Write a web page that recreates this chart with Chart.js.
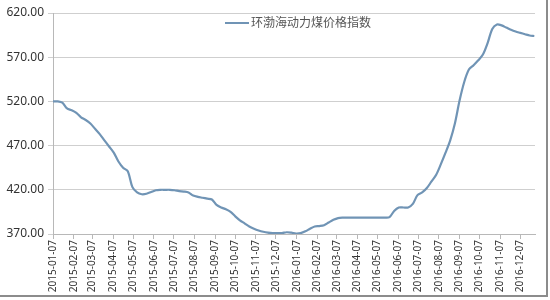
<!DOCTYPE html>
<html>
<head>
<meta charset="utf-8">
<script src="https://cdn.jsdelivr.net/npm/chart.js@4/dist/chart.umd.min.js"></script>
<style>
  html, body { margin: 0; padding: 0; background: #fff; }
  #wrap { position: relative; width: 550px; height: 300px; }
  #frame { position: absolute; left: 0; top: 0; width: 546px; height: 295px;
           border-right: 2px solid #8c8c8c; border-bottom: 2px solid #8c8c8c; pointer-events: none; }
  #legend { position: absolute; left: 225px; top: 13px; font: 12px "Noto Sans CJK SC", "Noto Sans", sans-serif;
            color: #555; white-space: nowrap; }
  #legend span { display: inline-block; width: 24px; height: 2px; background: #7094b5;
                 vertical-align: middle; margin-right: 2px; position: relative; top: -1px; }
</style>
</head>
<body>
<div id="wrap">
  <canvas id="chart" width="550" height="300"></canvas>
  <div id="legend"></div>
  <div id="frame"></div>
</div>
<script>
// 周度日期（每周三）
const weeks = [
  "2015-01-07","2015-01-14","2015-01-21","2015-01-28","2015-02-04","2015-02-11","2015-02-18","2015-02-25",
  "2015-03-04","2015-03-11","2015-03-18","2015-03-25","2015-04-01","2015-04-08","2015-04-15","2015-04-22","2015-04-29",
  "2015-05-06","2015-05-13","2015-05-20","2015-05-27","2015-06-03","2015-06-10","2015-06-17","2015-06-24",
  "2015-07-01","2015-07-08","2015-07-15","2015-07-22","2015-07-29","2015-08-05","2015-08-12","2015-08-19","2015-08-26",
  "2015-09-02","2015-09-09","2015-09-16","2015-09-23","2015-09-30","2015-10-07","2015-10-14","2015-10-21","2015-10-28",
  "2015-11-04","2015-11-11","2015-11-18","2015-11-25","2015-12-02","2015-12-09","2015-12-16","2015-12-23","2015-12-30",
  "2016-01-06","2016-01-13","2016-01-20","2016-01-27","2016-02-03","2016-02-10","2016-02-17","2016-02-24",
  "2016-03-02","2016-03-09","2016-03-16","2016-03-23","2016-03-30","2016-04-06","2016-04-13","2016-04-20","2016-04-27",
  "2016-05-04","2016-05-11","2016-05-18","2016-05-25","2016-06-01","2016-06-08","2016-06-15","2016-06-22","2016-06-29",
  "2016-07-06","2016-07-13","2016-07-20","2016-07-27","2016-08-03","2016-08-10","2016-08-17","2016-08-24","2016-08-31",
  "2016-09-07","2016-09-14","2016-09-21","2016-09-28","2016-10-05","2016-10-12","2016-10-19","2016-10-26",
  "2016-11-02","2016-11-09","2016-11-16","2016-11-23","2016-11-30","2016-12-07","2016-12-14","2016-12-21","2016-12-28"
];

// 环渤海动力煤价格指数（元/吨）
const bspi = [
  520, 520, 518.5, 512, 510, 507, 502, 499,
  495, 489, 483, 476, 469, 462, 452, 445, 441,
  423, 417, 415, 415.5, 417.5, 419.5, 420, 420,
  420, 419.5, 418.5, 418, 417, 413.5, 412, 411, 410,
  409, 403, 400, 398, 395, 390, 385.5, 382, 378.5,
  376, 374, 372.5, 371.5, 371, 371, 371, 372, 371.5,
  370.5, 371, 373, 376, 378.5, 379, 380, 383,
  386, 388, 388.5, 388.5, 388.5, 388.5, 388.5, 388.5, 388.5,
  388.5, 388.5, 388.5, 389, 396, 400, 400, 400, 404,
  414, 417, 422, 429.5, 437, 449, 462, 476, 495,
  521, 542, 556, 561, 566.5, 573, 586, 602,
  607, 606, 603.5, 601, 599, 597.5, 596, 594.5, 594
];

// 横轴刻度（每月7日）
const tickLabels = [
  "2015-01-07","2015-02-07","2015-03-07","2015-04-07","2015-05-07","2015-06-07",
  "2015-07-07","2015-08-07","2015-09-07","2015-10-07","2015-11-07","2015-12-07",
  "2016-01-07","2016-02-07","2016-03-07","2016-04-07","2016-05-07","2016-06-07",
  "2016-07-07","2016-08-07","2016-09-07","2016-10-07","2016-11-07","2016-12-07"
];
const yTicks = [370, 420, 470, 520, 570, 620];

const seriesName = "环渤海动力煤价格指数";

const DAY = 86400000;
const t0 = Date.parse(weeks[0]);
const dayOf = s => Math.round((Date.parse(s) - t0) / DAY);
const tickDays = tickLabels.map(dayOf);

document.getElementById("legend").innerHTML = `<span></span>${seriesName}`;

new Chart(document.getElementById("chart"), {
  type: "line",
  data: {
    datasets: [{
      label: seriesName,
      data: weeks.map((w, i) => ({ x: dayOf(w), y: bspi[i] })),
      borderColor: "#7094b5",
      borderWidth: 2.2,
      pointRadius: 0,
      tension: 0.3,
      fill: false
    }]
  },
  options: {
    responsive: false,
    animation: false,
    layout: { padding: { top: 13, right: 15, left: 0, bottom: 0 } },
    plugins: { legend: { display: false }, tooltip: { enabled: false } },
    scales: {
      x: {
        type: "linear",
        min: 0,
        max: 722,
        afterBuildTicks: s => { s.ticks = tickDays.map(v => ({ value: v })); },
        afterFit: s => { s.height = 66; },
        ticks: {
          autoSkip: false,
          minRotation: 90,
          maxRotation: 90,
          padding: 1,
          color: "#333",
          font: { family: "Noto Sans", size: 10 },
          callback: v => tickLabels[tickDays.indexOf(v)]
        },
        grid: { drawOnChartArea: false, drawTicks: true, tickLength: 5, color: "#b8b8b8" },
        border: { color: "#b8b8b8", width: 1 }
      },
      y: {
        min: 370,
        max: 620,
        afterBuildTicks: s => { s.ticks = yTicks.map(v => ({ value: v })); },
        afterFit: s => { s.width = 53; },
        ticks: {
          padding: 4,
          color: "#333",
          font: { family: "Noto Sans", size: 12 },
          callback: v => v.toFixed(2)
        },
        grid: { color: "#cfcfcf", tickLength: 5, lineWidth: 1 },
        border: { color: "#b8b8b8", width: 1 }
      }
    }
  }
});
</script>
</body>
</html>
